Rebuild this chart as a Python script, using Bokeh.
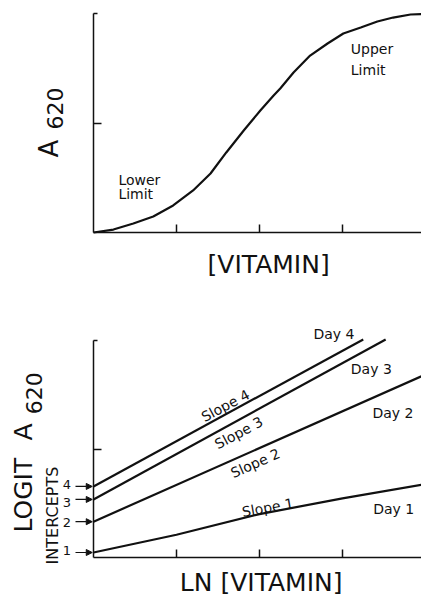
import math
from bokeh.plotting import figure
from bokeh.layouts import column
from bokeh.models import Range1d, FixedTicker, Label, Arrow, NormalHead, LinearAxis
from bokeh.embed import file_html
from bokeh.resources import INLINE

# ---- data ----
# upper panel: sigmoid dose-response curve
curve_x = [0, 0.24, 0.48, 0.72, 0.96, 1.20, 1.41, 1.60, 1.81, 2.01, 2.17, 2.25, 2.41,
           2.61, 2.82, 3.01, 3.22, 3.42, 3.61, 3.82, 3.95]
curve_y = [0, 0.027, 0.082, 0.146, 0.247, 0.384, 0.539, 0.731, 0.932, 1.114, 1.251, 1.315,
           1.461, 1.616, 1.726, 1.817, 1.872, 1.927, 1.963, 1.991, 1.995]

# lower panel: logit lines for four days
day1_x = [0, 1, 2, 3, 3.95]
day1_y = [0.046, 0.21, 0.40, 0.545, 0.67]
day2_x = [0, 3.95]
day2_y = [0.33, 1.67]
day3_x = [0, 3.52]
day3_y = [0.535, 2.01]
day4_x = [0, 3.25]
day4_y = [0.655, 2.01]

intercept_labels = ["1", "2", "3", "4"]
intercept_values = [0.046, 0.33, 0.535, 0.655]
day_labels = ["Day 1", "Day 2", "Day 3", "Day 4"]
slope_labels = ["Slope 1", "Slope 2", "Slope 3", "Slope 4"]
x_ticks = [1, 2, 3]
y_ticks = [1]

FONT = "DejaVu Sans"
INK = "#111111"
PXX = 83.0      # pixels per x unit
X0 = 93.0       # pixel column of x = 0
W = 421


def base_fig(height, y0_px, px_per_y):
    # whole canvas is the frame; axes are placed at fixed data locations
    ys = (y0_px - height) / px_per_y
    ye = y0_px / px_per_y
    p = figure(width=W, height=height,
               x_range=Range1d(-X0 / PXX, (W - X0) / PXX), y_range=Range1d(ys, ye),
               output_backend="svg", toolbar_location=None,
               x_axis_location=None, y_axis_location=None,
               min_border=0, min_border_left=0, min_border_right=0,
               min_border_top=0, min_border_bottom=0)
    p.grid.visible = False
    p.outline_line_color = None
    p.background_fill_color = "white"
    p.border_fill_color = "white"
    xa = LinearAxis(fixed_location=0, bounds=(0, (W - X0) / PXX),
                    ticker=FixedTicker(ticks=x_ticks))
    ya = LinearAxis(fixed_location=0, bounds=(0, 2),
                    ticker=FixedTicker(ticks=y_ticks, minor_ticks=[2]))
    xa.major_label_overrides = {t: "" for t in x_ticks}
    ya.major_label_overrides = {t: "" for t in y_ticks}
    for ax in (xa, ya):
        ax.major_tick_in = 8
        ax.major_tick_out = 0
        ax.minor_tick_in = 4
        ax.minor_tick_out = 0
        ax.major_label_text_font_size = "1px"
        ax.axis_line_width = 1.5
        ax.axis_line_color = INK
        ax.major_tick_line_width = 1.5
        ax.major_tick_line_color = INK
        ax.minor_tick_line_width = 1.5
        ax.minor_tick_line_color = INK
    p.add_layout(xa, "below")
    p.add_layout(ya, "left")
    return p


def lab(p, x, y, text, size, angle=0.0, align="left", baseline="middle"):
    p.add_layout(Label(x=x, y=y, text=text, text_font=FONT, text_font_size=f"{size}px",
                       angle=angle, text_align=align, text_baseline=baseline,
                       text_color=INK))


R90 = math.pi / 2

# ---------------- upper panel ----------------
p1 = base_fig(298, 232.0, 109.5)
p1.line(curve_x, curve_y, line_width=2.2, line_color=INK)
lab(p1, 0.30, 0.484, "Lower", 14)
lab(p1, 0.30, 0.356, "Limit", 14)
lab(p1, 3.10, 1.68, "Upper", 14)
lab(p1, 3.10, 1.48, "Limit", 14)
lab(p1, -0.542, 0.685, "A", 26, angle=R90)
lab(p1, -0.458, 0.94, "620", 22, angle=R90)
lab(p1, 2.11, -0.292, "[VITAMIN]", 25, align="center")

# ---------------- lower panel ----------------
p2 = base_fig(298, 557.0 - 298.0, 108.5)
for xs, ys in [(day1_x, day1_y), (day2_x, day2_y), (day3_x, day3_y), (day4_x, day4_y)]:
    p2.line(xs, ys, line_width=2.2, line_color=INK)

day_pos = [(3.37, 0.45), (3.36, 1.33), (3.10, 1.74), (2.65, 2.06)]
for t, (x, y) in zip(day_labels, day_pos):
    lab(p2, x, y, t, 14)

slope_pos = [(2.10, 0.46, 10), (1.95, 0.87, 24), (1.75, 1.15, 28), (1.59, 1.40, 28)]
for t, (x, y, a) in zip(slope_labels, slope_pos):
    lab(p2, x, y, t, 14, angle=math.radians(a), align="center")

digit_y = [0.065, 0.323, 0.507, 0.673]
for t, y in zip(intercept_labels, digit_y):
    lab(p2, -0.32, y, t, 13, align="center")
for v in intercept_values:
    p2.add_layout(Arrow(end=NormalHead(size=6, fill_color=INK, line_color=INK),
                        x_start=-0.217, y_start=v, x_end=-0.015, y_end=v,
                        line_width=1.2, line_color=INK))

lab(p2, -0.50, 0.387, "INTERCEPTS", 16, angle=R90, align="center")
lab(p2, -0.849, 0.23, "LOGIT", 25, angle=R90)
lab(p2, -0.849, 1.078, "A", 25, angle=R90)
lab(p2, -0.72, 1.32, "620", 22, angle=R90)
lab(p2, 2.02, -0.23, "LN [VITAMIN]", 25, align="center")

layout = column(p1, p2)
open("out.html", "w").write(file_html(layout, INLINE))
